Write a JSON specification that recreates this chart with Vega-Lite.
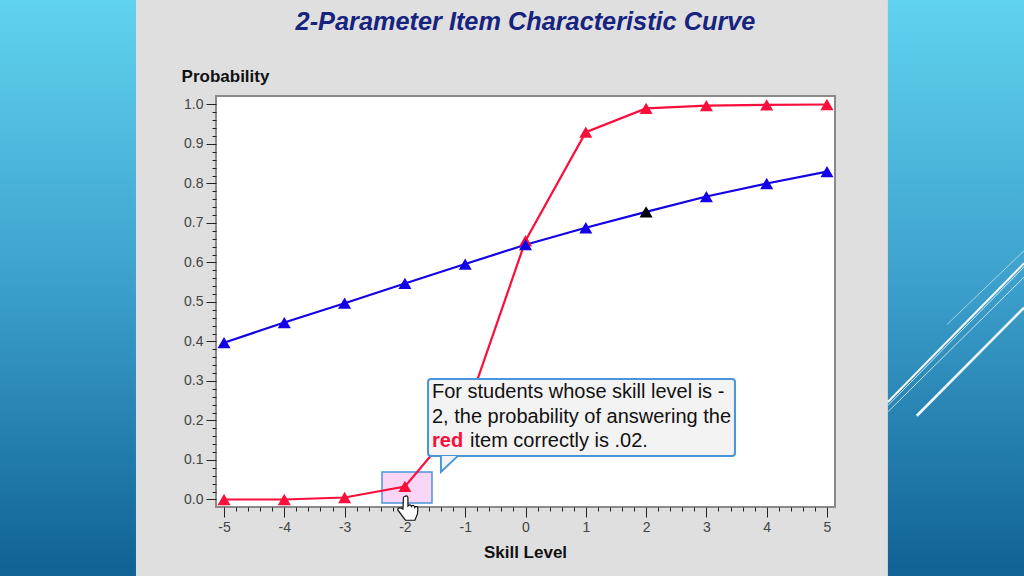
{"$schema":"https://vega.github.io/schema/vega-lite/v6.json","width":619,"height":411,"autosize":"none","padding":{"left":216,"top":96,"right":189,"bottom":69},"background":"#dfdfdf",
"title":{"text":"2-Parameter Item Characteristic Curve","font":"Liberation Sans","fontSize":25.3,"fontStyle":"italic","fontWeight":"bold","color":"#16237f","anchor":"middle","baseline":"alphabetic","offset":-55},
"config":{"view":{"fill":"white","stroke":"#8a8a8a","strokeWidth":2}},
"datasets":{
"panels":[{"x":-8.72,"x2":-6.46,"y":1.2646,"y2":-0.1937},{"x":6.01,"x2":8.28,"y":1.2646,"y2":-0.1937}],
"slashes":[{"x":6.49,"x2":8.27,"y":0.212,"y2":0.486,"w":2.5,"o":0.95},{"x":6.01,"x2":8.27,"y":0.247,"y2":0.598,"w":2,"o":0.95},{"x":6.01,"x2":8.27,"y":0.238,"y2":0.589,"w":1,"o":0.8},{"x":6.01,"x2":8.27,"y":0.222,"y2":0.563,"w":1,"o":0.7},{"x":6.99,"x2":8.27,"y":0.443,"y2":0.63,"w":1,"o":0.55}],
"curves":[{"skill":-5,"p":0.0,"item":"red"},{"skill":-4,"p":0.0,"item":"red"},{"skill":-3,"p":0.005,"item":"red"},{"skill":-2,"p":0.033,"item":"red"},{"skill":-1,"p":0.214,"item":"red"},{"skill":0,"p":0.655,"item":"red"},{"skill":1,"p":0.93,"item":"red"},{"skill":2,"p":0.99,"item":"red"},{"skill":3,"p":0.997,"item":"red"},{"skill":4,"p":0.999,"item":"red"},{"skill":5,"p":1.0,"item":"red"},
{"skill":-5,"p":0.397,"item":"blue"},{"skill":-4,"p":0.448,"item":"blue"},{"skill":-3,"p":0.497,"item":"blue"},{"skill":-2,"p":0.547,"item":"blue"},{"skill":-1,"p":0.596,"item":"blue"},{"skill":0,"p":0.645,"item":"blue"},{"skill":1,"p":0.688,"item":"blue"},{"skill":2,"p":0.728,"item":"blue"},{"skill":3,"p":0.767,"item":"blue"},{"skill":4,"p":0.8,"item":"blue"},{"skill":5,"p":0.83,"item":"blue"}]},
"encoding":{
"x":{"field":"skill","type":"quantitative","scale":{"domain":[-5.133,5.133],"nice":false,"zero":false},
"axis":{"title":"Skill Level","titleFont":"Liberation Sans","titleFontSize":17,"titleFontWeight":"bold","titleColor":"#111","titleX":309,"titleY":45,"titleBaseline":"middle","tickCount":60,
"values":[-5,-4.8,-4.6,-4.4,-4.2,-4,-3.8,-3.6,-3.4,-3.2,-3,-2.8,-2.6,-2.4,-2.2,-2,-1.8,-1.6,-1.4,-1.2,-1,-0.8,-0.6,-0.4,-0.2,0,0.2,0.4,0.6,0.8,1,1.2,1.4,1.6,1.8,2,2.2,2.4,2.6,2.8,3,3.2,3.4,3.6,3.8,4,4.2,4.4,4.6,4.8,5],
"labelExpr":"abs(datum.value-round(datum.value))<0.01?''+round(datum.value):''","labelFont":"Liberation Sans","labelFontSize":14,"labelColor":"#444","labelPadding":3,"labelFlush":false,"labelOverlap":false,"grid":false,"domain":false,"tickColor":"#222","tickSize":{"expr":"abs(datum.value-round(datum.value))<0.01?10:4"}}}},
"layer":[
{"data":{"name":"panels"},"mark":{"type":"rect","clip":false,"fill":{"gradient":"linear","x1":0,"y1":0,"x2":0,"y2":1,"stops":[{"offset":0,"color":"#60d3f0"},{"offset":0.5,"color":"#3c9fcb"},{"offset":1,"color":"#0f6293"}]}},"encoding":{"x":{"field":"x","type":"quantitative"},"x2":{"field":"x2"},"y":{"field":"y","type":"quantitative","scale":{"domain":[-0.019,1.0215],"nice":false,"zero":false},"axis":{"title":"Probability","titleFont":"Liberation Sans","titleFontSize":17,"titleFontWeight":"bold","titleColor":"#111","titleAngle":0,"titleX":9,"titleY":-20,"titleAlign":"center","titleAnchor":"start","titleBaseline":"middle","tickCount":60,
"values":[0,0.02,0.04,0.06,0.08,0.1,0.12,0.14,0.16,0.18,0.2,0.22,0.24,0.26,0.28,0.3,0.32,0.34,0.36,0.38,0.4,0.42,0.44,0.46,0.48,0.5,0.52,0.54,0.56,0.58,0.6,0.62,0.64,0.66,0.68,0.7,0.72,0.74,0.76,0.78,0.8,0.82,0.84,0.86,0.88,0.9,0.92,0.94,0.96,0.98,1],
"labelExpr":"abs(datum.value*10-round(datum.value*10))<0.01?format(datum.value,'.1f'):''","labelFont":"Liberation Sans","labelFontSize":14,"labelColor":"#444","labelPadding":3,"labelOverlap":false,"labelFlush":false,"grid":false,"domain":false,"tickColor":"#222","tickSize":{"expr":"abs(datum.value*10-round(datum.value*10))<0.01?10:4"}}},"y2":{"field":"y2"}}},
{"data":{"name":"slashes"},"mark":{"type":"rule","clip":false,"color":"white"},"encoding":{"x":{"field":"x","type":"quantitative"},"x2":{"field":"x2"},"y":{"field":"y","type":"quantitative"},"y2":{"field":"y2"},"strokeWidth":{"field":"w","type":"quantitative","scale":null},"opacity":{"field":"o","type":"quantitative","scale":null}}},
{"data":{"values":[{"a":-2.38,"b":-1.551,"c":0.0696,"d":-0.0089}]},"mark":{"type":"rect","fill":"#f9d6f6","stroke":"#4a94dc","strokeWidth":1.5},"encoding":{"x":{"field":"a","type":"quantitative"},"x2":{"field":"b"},"y":{"field":"c","type":"quantitative"},"y2":{"field":"d"}}},
{"data":{"name":"curves"},"mark":{"type":"line","strokeWidth":2.2},"encoding":{"x":{"field":"skill","type":"quantitative"},"y":{"field":"p","type":"quantitative"},"color":{"field":"item","type":"nominal","legend":null,"scale":{"domain":["red","blue"],"range":["#fa0f3c","#1400e6"]}}}},
{"data":{"name":"curves"},"mark":{"type":"point","shape":"triangle-up","filled":true,"opacity":1,"size":170},"encoding":{"x":{"field":"skill","type":"quantitative"},"y":{"field":"p","type":"quantitative"},"color":{"condition":{"test":"datum.item=='blue'&&datum.skill==2","value":"#000000"},"field":"item","type":"nominal","legend":null}}},
{"data":{"values":[{"a":-1.617,"b":3.474,"c":0.305,"d":0.11}]},"mark":{"type":"rect","fill":"#f3f3f3","stroke":"#4a94dc","strokeWidth":2,"cornerRadius":3},"encoding":{"x":{"field":"a","type":"quantitative"},"x2":{"field":"b"},"y":{"field":"c","type":"quantitative"},"y2":{"field":"d"}}},
{"data":{"values":[{"a":-1.27,"c":0.08}]},"mark":{"type":"point","filled":true,"opacity":1,"fill":"#f3f3f3","stroke":"#4a94dc","strokeWidth":2,"size":1600,"shape":"M-0.4,-0.6 L-0.4,0.2 L0.45,-0.6"},"encoding":{"x":{"field":"a","type":"quantitative"},"y":{"field":"c","type":"quantitative"}}},
{"data":{"values":[{"a":-1.551,"c":0.272,"t":"For students whose skill level is -"},{"a":-1.551,"c":0.209,"t":"2, the probability of answering the"},{"a":-0.92,"c":0.148,"t":"item correctly is .02."}]},"mark":{"type":"text","align":"left","baseline":"middle","font":"Liberation Sans","fontSize":20,"color":"#111"},"encoding":{"x":{"field":"a","type":"quantitative"},"y":{"field":"c","type":"quantitative"},"text":{"field":"t"}}},
{"data":{"values":[{"a":-1.551,"c":0.148,"t":"red"}]},"mark":{"type":"text","align":"left","baseline":"middle","font":"Liberation Sans","fontSize":20,"fontWeight":"bold","color":"#fa0f3c"},"encoding":{"x":{"field":"a","type":"quantitative"},"y":{"field":"c","type":"quantitative"},"text":{"field":"t"}}},
{"data":{"values":[{"a":-1.95,"c":-0.024}]},"mark":{"type":"point","clip":false,"filled":true,"opacity":1,"fill":"white","stroke":"#111","strokeWidth":1.2,"size":2500,"shape":"M-0.12,-0.5 C-0.06,-0.56 0,-0.5 0,-0.44 L0,-0.12 C0.08,-0.2 0.12,-0.16 0.14,-0.1 C0.2,-0.18 0.26,-0.14 0.27,-0.06 C0.33,-0.13 0.4,-0.08 0.4,0 L0.38,0.2 L0.28,0.45 L-0.1,0.45 L-0.4,0.05 C-0.42,-0.05 -0.3,-0.08 -0.2,0 L-0.18,-0.44 C-0.18,-0.48 -0.15,-0.5 -0.12,-0.5 Z"},"encoding":{"x":{"field":"a","type":"quantitative"},"y":{"field":"c","type":"quantitative"}}}
]}
